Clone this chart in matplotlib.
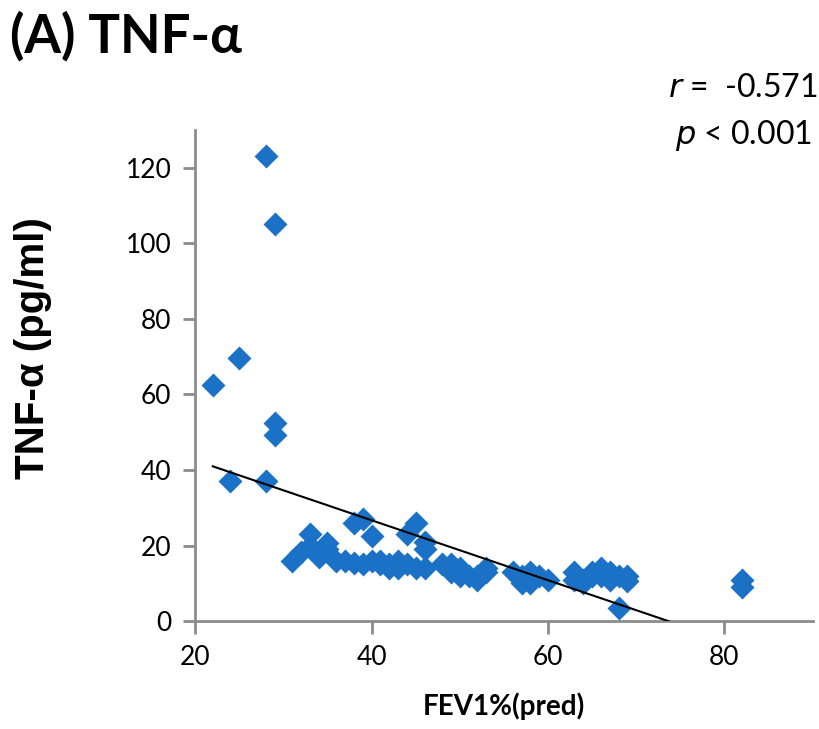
import numpy as np
import matplotlib
matplotlib.use('Agg')
import matplotlib.pyplot as plt

plt.rcParams['font.family'] = ['Lato', 'DejaVu Sans']

# FEV1 % predicted vs TNF-alpha
fev1 = [22, 24, 25, 28, 28, 29, 29, 29,
        31, 32, 33, 33, 34, 34, 35, 35, 36, 37, 38, 38, 39, 39, 40, 40,
        41, 41, 42, 42, 43, 43, 44, 44, 45, 45, 46, 46, 46,
        48, 49, 49, 50, 50, 51, 52, 52, 53, 53,
        56, 57, 57, 58, 58, 59, 60,
        63, 63, 64, 64, 65, 65, 66, 66, 67, 67, 68, 68, 69, 69,
        82, 82]
tnf = [62.5, 37, 69.5, 123, 37, 105, 52.3, 49.3,
       16, 18.3, 20, 23, 17, 18, 20.7, 19, 16, 16, 15.5, 26, 27, 15, 22.5, 16,
       15, 16, 14, 15, 16, 14, 23, 15, 26, 14, 21, 19, 14,
       15, 15, 13, 14, 12, 12, 11, 12, 13, 14,
       13, 12, 10, 13, 10, 12, 11,
       13, 11, 11, 10, 13, 12, 14, 12, 11, 13, 12, 3.5, 12, 10.6,
       11, 9]

# trendline
trend_slope = -0.793
trend_intercept = 58.4

fig = plt.figure(figsize=(8.2, 7.29), dpi=100)
ax = fig.add_axes([0.238, 0.148, 0.753, 0.674])

ax.plot(fev1, tnf, 'D', color='#1b71c5', ms=12, mec='none', zorder=3)
xs = np.array([min(fev1), 90])
ax.plot(xs, trend_intercept + trend_slope * xs, color='black', lw=1.5, zorder=4)

ax.set_xlim(20, 90)
ax.set_ylim(0, 130)
ax.set_xticks([20, 40, 60, 80])
ax.set_yticks([0, 20, 40, 60, 80, 100, 120])
for s in ['top', 'right']:
    ax.spines[s].set_visible(False)
for s in ['left', 'bottom']:
    ax.spines[s].set_color('#8c8c8c')
    ax.spines[s].set_linewidth(2)
ax.tick_params(colors='#8c8c8c', length=9, width=2, labelcolor='black',
               labelsize=19, pad=8)

ax.set_ylabel('TNF-α (pg/ml)', fontsize=29, fontweight='bold',
              family=['Liberation Sans', 'DejaVu Sans'])
ax.yaxis.set_label_coords(-0.232, 0.556)
ax.set_xlabel('FEV1%(pred)', fontsize=20, fontweight='bold', labelpad=16)

fig.text(0.012, 0.951, '(A) TNF-α', fontsize=38, fontweight='bold', va='center')
fig.text(0.997, 0.879, '$\\it{r}$ =  -0.571', fontsize=23, ha='right', va='center')
fig.text(0.99, 0.814, '$\\it{p}$ < 0.001', fontsize=23, ha='right', va='center')

fig.savefig('out.png', dpi=100)
